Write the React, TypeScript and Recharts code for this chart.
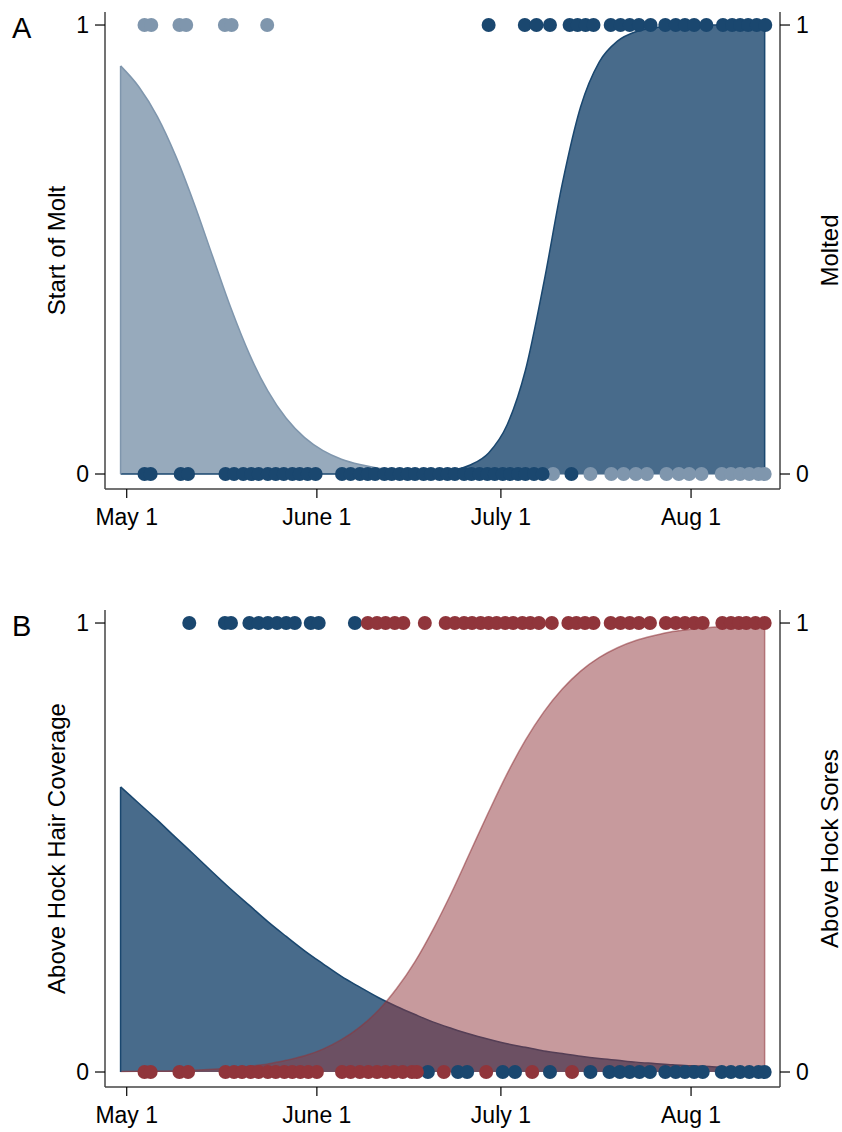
import { ComposedChart, Area, Scatter, XAxis, YAxis, ReferenceLine } from 'recharts'

// days counted from May 1
const MONTH_TICKS = [0, 31, 61, 92]
const MONTH_LABELS = ['May 1', 'June 1', 'July 1', 'Aug 1']

const X_DOMAIN: [number, number] = [-3.54, 106.5]
const Y_DOMAIN: [number, number] = [-0.0334, 1.029]

// fitted probability curves, sampled every 3 days
const CURVE_DAYS = [
  -1, 2, 5, 8, 11, 14, 17, 20, 23, 26, 29, 32, 35, 38, 41, 44, 47, 50,
  53, 56, 59, 62, 65, 68, 71, 74, 77, 80, 83, 86, 89, 92, 95, 98, 101, 104,
]
const START_MOLT_CURVE = [
  0.909, 0.862, 0.796, 0.708, 0.602, 0.485, 0.369, 0.267, 0.185, 0.124, 0.081, 0.052, 0.033, 0.021, 0.013, 0.008, 0.005, 0.003,
  0.002, 0.001, 0.001, 0.001, 0, 0, 0, 0, 0, 0, 0, 0, 0, 0, 0, 0, 0, 0,
]
const MOLTED_CURVE = [
  0, 0, 0, 0, 0, 0, 0, 0, 0, 0, 0, 0, 0, 0, 0, 0.001, 0.001, 0.003,
  0.008, 0.02, 0.047, 0.109, 0.231, 0.426, 0.646, 0.818, 0.917, 0.964, 0.985, 0.994, 0.998, 0.999, 1, 1, 1, 1,
]
const HAIR_CURVE = [
  0.635, 0.598, 0.561, 0.522, 0.484, 0.445, 0.407, 0.371, 0.335, 0.302, 0.27, 0.241, 0.213, 0.189, 0.166, 0.146, 0.128, 0.111,
  0.097, 0.084, 0.073, 0.063, 0.055, 0.047, 0.041, 0.035, 0.03, 0.026, 0.022, 0.019, 0.016, 0.014, 0.012, 0.01, 0.009, 0.008,
]
const SORES_CURVE = [
  0.001, 0.0015, 0.002, 0.003, 0.004, 0.006, 0.009, 0.013, 0.018, 0.026, 0.036, 0.051, 0.072, 0.1, 0.137, 0.186, 0.246, 0.319,
  0.401, 0.49, 0.579, 0.664, 0.739, 0.802, 0.853, 0.893, 0.923, 0.945, 0.961, 0.972, 0.981, 0.986, 0.99, 0.993, 0.995, 0.997,
]

// observed animals (day of capture), outcome 1 / 0
const START_MOLT_YES = [2.9, 4, 8.6, 9.7, 16, 17.1, 22.9]
const START_MOLT_NO = [
  69.5, 75.6, 79, 81, 83, 84.8, 88, 90, 91.7, 93.7, 97, 98.5, 100, 101.5, 103, 104,
]
const MOLTED_YES = [
  59, 64.9, 66.8, 69, 72.2, 73.5, 74.8, 76.1, 78.9, 80.5, 82, 83.5, 85.4,
  87.8, 89.5, 91, 92.5, 94.5, 97.2, 98.7, 100, 101.3, 102.7, 104.1,
]
const MOLTED_NO = [
  2.9, 3.9, 8.8, 10, 16.1, 17.5, 19, 20.3, 21.5, 23, 24.3, 25.6, 27, 28.2, 29.5, 30.8,
  35.1, 36.5, 38, 39.3, 40.5, 42, 43.2, 44.5, 45.8, 47, 48.4, 49.6, 51, 52.3, 53.5, 55,
  56.2, 57.5, 58.8, 60, 61.3, 62.5, 63.8, 65, 66.4, 67.8, 72.5,
]
const HAIR_YES = [10.2, 16, 17, 20, 21.5, 23, 24.5, 26, 27.4, 30, 31.3, 37.2]
const HAIR_NO = [
  49.1, 54, 55.5, 61.3, 63.3, 69, 75.6, 78.7, 80.4, 82, 83.6, 85.3, 87.8, 89.5, 91, 92.5, 93.9,
  97, 98.5, 100, 101.5, 103, 104,
]
const SORES_YES = [
  39.3, 40.8, 42.2, 43.7, 45.1, 48.6, 52, 53.5, 55, 56.3, 57.7, 59, 60.3, 61.7, 63, 64.5, 65.8,
  67.2, 69.3, 72, 73.3, 74.7, 76.1, 78.9, 80.5, 82, 83.5, 85.3, 87.9, 89.5, 91, 92.5, 93.9,
  97.1, 98.5, 99.8, 101, 102.5, 104,
]
const SORES_NO = [
  2.9, 3.9, 8.6, 10, 16.1, 17.5, 18.8, 20.2, 21.5, 23, 24.3, 25.7, 27, 28.3, 29.6, 31,
  35.1, 36.5, 38, 39.4, 40.8, 42.2, 43.6, 45, 46.5, 47.3, 51.7, 58.6, 66.1, 72.6,
]

const NAVY = '#1a476f'
const LIGHT_DOT = '#7f96ad'
const LIGHT_FILL = '#97aabc'
const DARK_FILL = '#486b8b'
const MAROON = '#90353b'
const FONT = '"Liberation Sans", Arial, sans-serif'

type Series = {
  axis: 'l' | 'r'
  curve: number[]
  yes: number[]
  no: number[]
  fill: string
  fillOpacity: number
  stroke: string
  strokeOpacity: number
  dot: string
  edge: 'first' | 'last'
}

type PanelProps = {
  top: number
  letter: string
  leftTitle: string
  rightTitle: string
  series: Series[]
}

const curvePoints = (vals: number[]) => CURVE_DAYS.map((t, i) => ({ t, v: vals[i] }))
const dotPoints = (days: number[], v: number) => days.map(t => ({ t, v }))

const dotShape = (color: string) => (p: any) => (
  <circle cx={p.cx} cy={p.cy} r={7} fill={color} />
)

const tickStyle = { fill: '#000', fontSize: 23, fontFamily: FONT }
const titleStyle = { fill: '#000', fontSize: 24, fontFamily: FONT }

function Panel({ top, letter, leftTitle, rightTitle, series }: PanelProps) {
  return (
    <div style={{ position: 'absolute', left: 0, top, width: 842, height: 534 }}>
      <div
        style={{
          position: 'absolute',
          left: 12,
          top: 13.5,
          fontSize: 29,
          lineHeight: '29px',
          fontFamily: FONT,
          color: '#000',
        }}
      >
        {letter}
      </div>
      <ComposedChart width={842} height={534} margin={{ top: 12, right: 0, bottom: 0, left: 0 }}>
        <XAxis
          type="number"
          dataKey="t"
          domain={X_DOMAIN}
          allowDataOverflow
          ticks={MONTH_TICKS}
          tickFormatter={(v: number) => MONTH_LABELS[MONTH_TICKS.indexOf(v)]}
          height={45}
          tickSize={9}
          tickMargin={11}
          tick={tickStyle}
          axisLine={{ stroke: '#444', strokeWidth: 1.5 }}
          tickLine={{ stroke: '#000', strokeWidth: 1.2 }}
        />
        <YAxis
          yAxisId="l"
          orientation="left"
          type="number"
          dataKey="v"
          domain={Y_DOMAIN}
          allowDataOverflow
          ticks={[0, 1]}
          width={105}
          tickSize={10}
          tickMargin={6}
          tick={tickStyle}
          axisLine={{ stroke: '#444', strokeWidth: 1.5 }}
          tickLine={{ stroke: '#000', strokeWidth: 1.2 }}
          label={{
            value: leftTitle,
            angle: -90,
            position: 'center',
            dx: 4,
            style: titleStyle,
          }}
        />
        <YAxis
          yAxisId="r"
          orientation="right"
          type="number"
          dataKey="v"
          domain={Y_DOMAIN}
          allowDataOverflow
          ticks={[0, 1]}
          width={62}
          tickSize={10}
          tickMargin={6}
          tick={tickStyle}
          axisLine={{ stroke: '#444', strokeWidth: 1.5 }}
          tickLine={{ stroke: '#000', strokeWidth: 1.2 }}
          label={{
            value: rightTitle,
            angle: -90,
            position: 'center',
            dx: 18,
            style: titleStyle,
          }}
        />
        {series.map((s, i) => (
          <Area
            key={`a${i}`}
            yAxisId={s.axis}
            data={curvePoints(s.curve)}
            dataKey="v"
            type="monotone"
            baseValue={0}
            fill={s.fill}
            fillOpacity={s.fillOpacity}
            stroke={s.stroke}
            strokeOpacity={s.strokeOpacity}
            strokeWidth={1.5}
            dot={false}
            activeDot={false}
            isAnimationActive={false}
          />
        ))}
        {series.map((s, i) => {
          // closing vertical edge of the shaded region
          const idx = s.edge === 'first' ? 0 : CURVE_DAYS.length - 1
          const t = CURVE_DAYS[idx]
          return (
            <ReferenceLine
              key={`e${i}`}
              yAxisId={s.axis}
              segment={[
                { x: t, y: 0 },
                { x: t, y: s.curve[idx] },
              ]}
              stroke={s.stroke}
              strokeOpacity={s.strokeOpacity}
              strokeWidth={1.5}
            />
          )
        })}
        {series.map((s, i) => (
          <Scatter
            key={`y${i}`}
            yAxisId={s.axis}
            data={dotPoints(s.yes, 1)}
            shape={dotShape(s.dot)}
            isAnimationActive={false}
          />
        ))}
        {series.map((s, i) => (
          <Scatter
            key={`n${i}`}
            yAxisId={s.axis}
            data={dotPoints(s.no, 0)}
            shape={dotShape(s.dot)}
            isAnimationActive={false}
          />
        ))}
      </ComposedChart>
    </div>
  )
}

const MOLT_SERIES: Series[] = [
  {
    axis: 'l',
    curve: START_MOLT_CURVE,
    yes: START_MOLT_YES,
    no: START_MOLT_NO,
    fill: LIGHT_FILL,
    fillOpacity: 1,
    stroke: LIGHT_DOT,
    strokeOpacity: 1,
    dot: LIGHT_DOT,
    edge: 'first',
  },
  {
    axis: 'r',
    curve: MOLTED_CURVE,
    yes: MOLTED_YES,
    no: MOLTED_NO,
    fill: DARK_FILL,
    fillOpacity: 1,
    stroke: NAVY,
    strokeOpacity: 1,
    dot: NAVY,
    edge: 'last',
  },
]

const HOCK_SERIES: Series[] = [
  {
    axis: 'l',
    curve: HAIR_CURVE,
    yes: HAIR_YES,
    no: HAIR_NO,
    fill: DARK_FILL,
    fillOpacity: 1,
    stroke: NAVY,
    strokeOpacity: 1,
    dot: NAVY,
    edge: 'first',
  },
  {
    axis: 'r',
    curve: SORES_CURVE,
    yes: SORES_YES,
    no: SORES_NO,
    fill: MAROON,
    fillOpacity: 0.5,
    stroke: MAROON,
    strokeOpacity: 0.55,
    dot: MAROON,
    edge: 'last',
  },
]

export default function App() {
  return (
    <div
      style={{
        position: 'absolute',
        left: 0,
        top: 0,
        width: 842,
        height: 1132,
        background: '#fff',
        overflow: 'hidden',
      }}
    >
      <Panel top={0} letter="A" leftTitle="Start of Molt" rightTitle="Molted" series={MOLT_SERIES} />
      <Panel
        top={598}
        letter="B"
        leftTitle="Above Hock Hair Coverage"
        rightTitle="Above Hock Sores"
        series={HOCK_SERIES}
      />
    </div>
  )
}
